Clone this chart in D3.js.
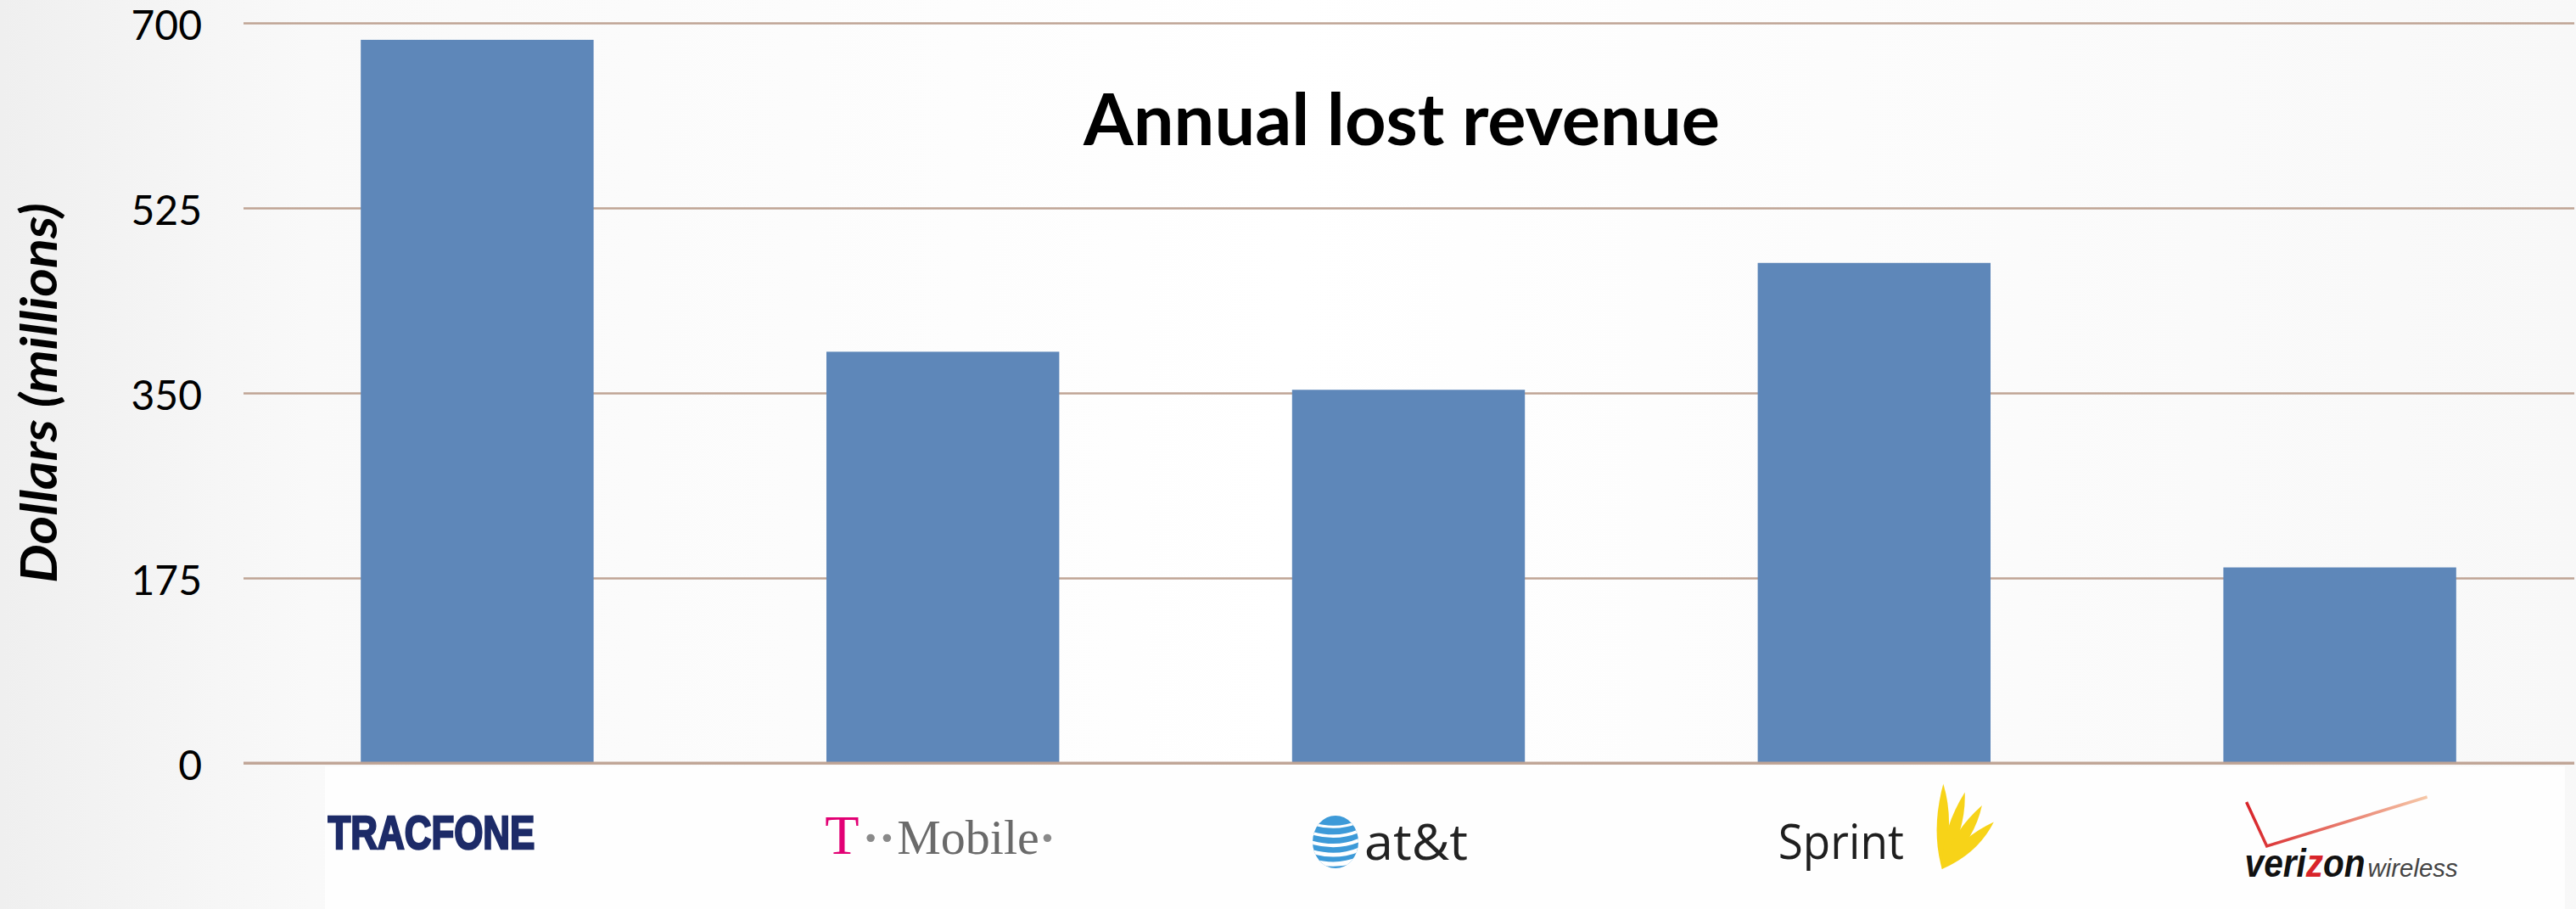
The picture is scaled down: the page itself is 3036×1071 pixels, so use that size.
<!DOCTYPE html>
<html>
<head>
<meta charset="utf-8">
<script src="https://cdn.jsdelivr.net/npm/d3@7"></script>
<style>
  html, body { margin: 0; padding: 0; background: #fafafa; }
  svg { display: block; }
</style>
</head>
<body>
<svg id="chart" width="3036" height="1071"></svg>
<script>
// ---- data ----
var carriers = ["TracFone", "T-Mobile", "AT&T", "Sprint", "Verizon Wireless"];
var lostRevenue = [684, 389, 353, 473, 185]; // millions of dollars
var yTicks = [0, 175, 350, 525, 700];
var chartTitle = "Annual lost revenue";
var yTitle = "Dollars (millions)";

var svg = d3.select("#chart"),
    width = +svg.attr("width"),
    height = +svg.attr("height"),
    margin = { left: 287, right: 2, top: 27, bottom: 172 };

// background: light grey slide gradient
var defs = svg.append("defs");
var bg = defs.append("linearGradient").attr("id", "bg").attr("x1", 0).attr("x2", 1).attr("y1", 0).attr("y2", 0);
bg.append("stop").attr("offset", "0%").attr("stop-color", "#efefef");
bg.append("stop").attr("offset", "12%").attr("stop-color", "#f9f9f9");
bg.append("stop").attr("offset", "50%").attr("stop-color", "#ffffff");
bg.append("stop").attr("offset", "100%").attr("stop-color", "#f8f8f8");
svg.append("rect").attr("width", width).attr("height", height).attr("fill", "url(#bg)");

// white strip behind the logos
svg.append("rect").attr("x", 383).attr("y", 903).attr("width", 2640).attr("height", height - 903).attr("fill", "#fefefe");

var x = d3.scaleBand()
    .domain(carriers)
    .range([margin.left + 1, width - 4])
    .paddingInner(0.5)
    .paddingOuter(0.25);

var y = d3.scaleLinear()
    .domain([0, 700])
    .range([height - margin.bottom, margin.top]);

// grid + tick labels
var yAxis = svg.append("g")
    .attr("transform", `translate(${margin.left},0)`)
    .call(d3.axisLeft(y)
        .tickValues(yTicks)
        .tickSize(-(width - margin.left - margin.right))
        .tickPadding(49));
yAxis.select(".domain").remove();
yAxis.selectAll(".tick line").attr("stroke", "#bfa495").attr("stroke-width", 2.5);
yAxis.selectAll(".tick text")
    .attr("fill", "#000")
    .attr("dy", "0.41em")
    .style("font-family", "Lato, 'Open Sans', sans-serif")
    .style("font-size", "48px");

// bars
svg.append("g")
    .selectAll("rect")
    .data(lostRevenue)
    .join("rect")
    .attr("x", (d, i) => x(carriers[i]))
    .attr("width", x.bandwidth())
    .attr("y", d => y(d))
    .attr("height", d => y(0) - y(d))
    .attr("fill", "#5e87b9");

// redraw the baseline on top of the bars
svg.append("line")
    .attr("x1", margin.left).attr("x2", width - margin.right)
    .attr("y1", y(0)).attr("y2", y(0))
    .attr("stroke", "#bfa495").attr("stroke-width", 3);

// chart title, fitted to the width seen in the picture
var title = svg.append("text")
    .attr("x", 1652).attr("y", 171)
    .attr("text-anchor", "middle")
    .style("font-family", "Lato, 'Open Sans', sans-serif")
    .style("font-weight", 700)
    .style("font-size", "90px")
    .text(chartTitle);
var tw = title.node().getComputedTextLength();
title.style("font-size", (90 * 750 / tw) + "px");

// y axis title
svg.append("text")
    .attr("transform", `translate(67,${(y(0) + y(700)) / 2}) rotate(-90)`)
    .attr("text-anchor", "middle")
    .attr("textLength", 448)
    .attr("lengthAdjust", "spacingAndGlyphs")
    .style("font-family", "Lato, 'Open Sans', sans-serif")
    .style("font-weight", 700)
    .style("font-style", "italic")
    .style("font-size", "60px")
    .text(yTitle);

// ---- logos under each bar ----
function center(name) { return x(name) + x.bandwidth() / 2; }

function tracfone(g, cx) {
    g.append("text")
        .attr("x", cx - 176).attr("y", 1000)
        .attr("textLength", 244).attr("lengthAdjust", "spacingAndGlyphs")
        .style("font-family", "'Liberation Sans', Arial, sans-serif")
        .style("font-weight", 700)
        .style("font-size", "56px")
        .attr("fill", "#1d2b68")
        .attr("stroke", "#1d2b68")
        .attr("stroke-width", 2.5)
        .text("TRACFONE");
}

function tmobile(g, cx) {
    var t = g.append("text")
        .attr("x", cx - 139).attr("y", 1006)
        .style("font-family", "'Liberation Serif', 'DejaVu Serif', serif")
        .style("font-size", "58px");
    t.append("tspan").attr("fill", "#e20074").style("font-size", "66px").text("T");
    t.append("tspan").attr("fill", "#8a8a8a").attr("dx", 4).style("font-weight", 700).text("··");
    t.append("tspan").attr("fill", "#6a6a6a").attr("dx", 2).text("Mobile");
    t.append("tspan").attr("fill", "#8a8a8a").style("font-weight", 700).text("·");
}

function att(g, cx) {
    var gx = cx - 86, gy = 992;
    defs.append("clipPath").attr("id", "globe")
        .append("ellipse").attr("cx", gx).attr("cy", gy).attr("rx", 27).attr("ry", 31);
    g.append("ellipse").attr("cx", gx).attr("cy", gy).attr("rx", 27).attr("ry", 31).attr("fill", "#3d9ad8");
    var stripes = g.append("g").attr("clip-path", "url(#globe)");
    [-20, -9, 2, 13, 24].forEach(function (dy, i) {
        stripes.append("path")
            .attr("d", `M${gx - 30},${gy + dy - 2} Q${gx + 4},${gy + dy + 8} ${gx + 32},${gy + dy - 6}`)
            .attr("fill", "none")
            .attr("stroke", "#ffffff")
            .attr("stroke-width", 3 + i * 0.6);
    });
    g.append("text")
        .attr("x", gx + 34).attr("y", 1013)
        .attr("textLength", 122).attr("lengthAdjust", "spacingAndGlyphs")
        .style("font-family", "'Open Sans', 'Noto Sans', sans-serif")
        .style("font-size", "58px")
        .attr("fill", "#222")
        .text("at&t");
}

function sprint(g, cx) {
    g.append("text")
        .attr("x", cx - 113).attr("y", 1012)
        .attr("textLength", 148).attr("lengthAdjust", "spacingAndGlyphs")
        .style("font-family", "'Open Sans', 'Noto Sans', sans-serif")
        .style("font-size", "56px")
        .attr("fill", "#1e1e1e")
        .text("Sprint");
    // yellow fan
    var ox = cx + 80, oy = 1024;
    [-84, -68, -52, -36].forEach(function (a, i) {
        var len = 100 - i * 6;
        g.append("path")
            .attr("transform", `translate(${ox},${oy}) rotate(${a})`)
            .attr("d", `M0,0 Q${len * 0.45},-18 ${len},-9 Q${len * 0.55},10 0,0 Z`)
            .attr("fill", "#f7d318");
    });
}

function verizon(g, cx) {
    var vg = defs.append("linearGradient").attr("id", "vz").attr("x1", 1).attr("x2", 0).attr("y1", 0).attr("y2", 0);
    vg.append("stop").attr("offset", "0%").attr("stop-color", "#f6c8a8");
    vg.append("stop").attr("offset", "100%").attr("stop-color", "#d8242a");
    g.append("path")
        .attr("d", `M${cx - 110},${945} L${cx - 86},${997} L${cx + 103},${939}`)
        .attr("fill", "none")
        .attr("stroke", "url(#vz)")
        .attr("stroke-width", 3.5);
    var t = g.append("text")
        .attr("x", cx - 112).attr("y", 1033)
        .attr("textLength", 142).attr("lengthAdjust", "spacingAndGlyphs")
        .style("font-family", "'Liberation Sans', Arial, sans-serif")
        .style("font-style", "italic")
        .style("font-weight", 700)
        .style("font-size", "46px");
    t.append("tspan").attr("fill", "#111").text("veri");
    t.append("tspan").attr("fill", "#d8242a").text("z");
    t.append("tspan").attr("fill", "#111").text("on");
    g.append("text")
        .attr("x", cx + 33).attr("y", 1033)
        .attr("textLength", 106).attr("lengthAdjust", "spacingAndGlyphs")
        .style("font-family", "'Liberation Sans', Arial, sans-serif")
        .style("font-style", "italic")
        .style("font-size", "30px")
        .attr("fill", "#444")
        .text("wireless");
}

var logoG = svg.append("g").attr("class", "logos");
var drawers = [tracfone, tmobile, att, sprint, verizon];
carriers.forEach(function (c, i) { drawers[i](logoG, center(c)); });
</script>
</body>
</html>
